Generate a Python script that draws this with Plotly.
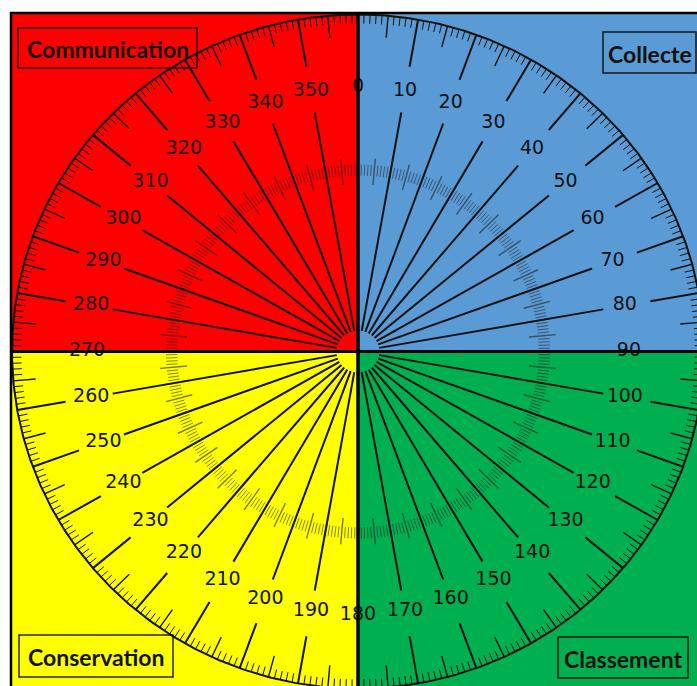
import math
import plotly.graph_objects as go

# ---------------- data ----------------
major_angles = list(range(0, 360, 10))          # degrees, clockwise from top
major_labels = [str(a) for a in major_angles]
degree_steps = list(range(0, 360))               # 1-degree graduation
quadrant_names = ["Collecte", "Classement", "Conservation", "Communication"]
quadrant_colors = ["#5B9BD5", "#00B050", "#FFFF00", "#FF0000"]

# ---------------- geometry (pixel space) ----------------
W, H = 697, 686
CX, CY = 358, 351.5
RX, RY = 346, 337
LEFT, TOP = 11, 13


def pt(a, f):
    r = math.radians(a)
    return CX + RX * f * math.sin(r), CY - RY * f * math.cos(r)


def segs(angles, f0, f1):
    xs, ys = [], []
    for a in angles:
        x0, y0 = pt(a, f0)
        x1, y1 = pt(a, f1)
        xs += [x0, x1, None]
        ys += [y0, y1, None]
    return xs, ys


fig = go.Figure()

# quadrant backgrounds
quad_boxes = {
    "Collecte": (CX, TOP, W + 5, CY),
    "Classement": (CX, CY, W + 5, H + 5),
    "Conservation": (LEFT, CY, CX, H + 5),
    "Communication": (LEFT, TOP, CX, CY),
}
shapes = []
for name, col in zip(quadrant_names, quadrant_colors):
    x0, y0, x1, y1 = quad_boxes[name]
    shapes.append(dict(type="rect", xref="x", yref="y", x0=x0, y0=y0, x1=x1, y1=y1,
                       fillcolor=col, line=dict(width=0), layer="below"))

# inner ring (semi-transparent graduation)
minor_in = [a for a in degree_steps if a % 5 != 0]
five_in = [a for a in degree_steps if a % 5 == 0]
xs, ys = segs(minor_in, 0.522, 0.555)
fig.add_trace(go.Scatter(x=xs, y=ys, mode="lines", line=dict(color="rgba(30,30,30,0.55)", width=1),
                         hoverinfo="skip", showlegend=False))
xs, ys = segs(five_in, 0.496, 0.574)
fig.add_trace(go.Scatter(x=xs, y=ys, mode="lines", line=dict(color="rgba(30,30,30,0.6)", width=1.4),
                         hoverinfo="skip", showlegend=False))

# outer circle
circ = [a / 2 for a in range(0, 721)]
fig.add_trace(go.Scatter(x=[pt(a, 1)[0] for a in circ], y=[pt(a, 1)[1] for a in circ],
                         mode="lines", line=dict(color="#111", width=2),
                         hoverinfo="skip", showlegend=False))

# outer graduations
minor_out = [a for a in degree_steps if a % 5 != 0]
five_out = [a for a in degree_steps if a % 5 == 0 and a % 10 != 0]
xs, ys = segs(minor_out, 0.973, 1.0)
fig.add_trace(go.Scatter(x=xs, y=ys, mode="lines", line=dict(color="#111", width=1),
                         hoverinfo="skip", showlegend=False))
xs, ys = segs(five_out, 0.935, 1.0)
fig.add_trace(go.Scatter(x=xs, y=ys, mode="lines", line=dict(color="#111", width=1.4),
                         hoverinfo="skip", showlegend=False))

# major radial lines (interrupted by labels)
xs1, ys1 = segs(major_angles, 0.062, 0.720)
xs2, ys2 = segs(major_angles, 0.858, 1.0)
fig.add_trace(go.Scatter(x=xs1 + xs2, y=ys1 + ys2, mode="lines", line=dict(color="#111", width=2),
                         hoverinfo="skip", showlegend=False))

# labels
fig.add_trace(go.Scatter(x=[pt(a, 0.783)[0] for a in major_angles],
                         y=[pt(a, 0.783)[1] for a in major_angles],
                         mode="text", text=major_labels,
                         textfont=dict(family="DejaVu Sans", size=19, color="#111"),
                         hoverinfo="skip", showlegend=False))

# dividers and border
shapes.append(dict(type="line", x0=CX, x1=CX, y0=TOP, y1=H + 5, line=dict(color="black", width=3.5), layer="above"))
shapes.append(dict(type="line", x0=LEFT, x1=W + 5, y0=CY, y1=CY, line=dict(color="black", width=3), layer="above"))
shapes.append(dict(type="rect", x0=LEFT, x1=W + 10, y0=TOP, y1=H + 10, line=dict(color="black", width=2.5),
                   fillcolor="rgba(0,0,0,0)", layer="above"))

# category boxes
label_boxes = {
    "Communication": (18, 28, 197, 68),
    "Collecte": (603, 32, 696, 73),
    "Conservation": (19, 635, 173, 677),
    "Classement": (558, 637, 688, 678),
}
annotations = []
for name in quadrant_names:
    x0, y0, x1, y1 = label_boxes[name]
    shapes.append(dict(type="rect", x0=x0, x1=x1, y0=y0, y1=y1,
                       line=dict(color="rgba(0,0,0,0.85)", width=1.5),
                       fillcolor="rgba(0,0,0,0)", layer="above"))
    annotations.append(dict(x=(x0 + x1) / 2, y=(y0 + y1) / 2 + 1, text="<b>%s</b>" % name, showarrow=False,
                            xanchor="center", yanchor="middle",
                            font=dict(family="Lato", size=23, color="#111")))

fig.update_layout(
    width=W, height=H, autosize=False,
    margin=dict(l=0, r=0, t=0, b=0),
    paper_bgcolor="white", plot_bgcolor="white",
    xaxis=dict(range=[0, W], visible=False, fixedrange=True),
    yaxis=dict(range=[H, 0], visible=False, fixedrange=True),
    shapes=shapes, annotations=annotations,
    hovermode=False,
)

fig.write_html("out.html", config={"displayModeBar": False, "staticPlot": True})

# remove the default page margin so the figure sits at the window origin
with open("out.html", "r", encoding="utf-8") as fh:
    html = fh.read()
html = html.replace("<head>", "<head><style>html,body{margin:0;padding:0;overflow:hidden}</style>", 1)
with open("out.html", "w", encoding="utf-8") as fh:
    fh.write(html)
